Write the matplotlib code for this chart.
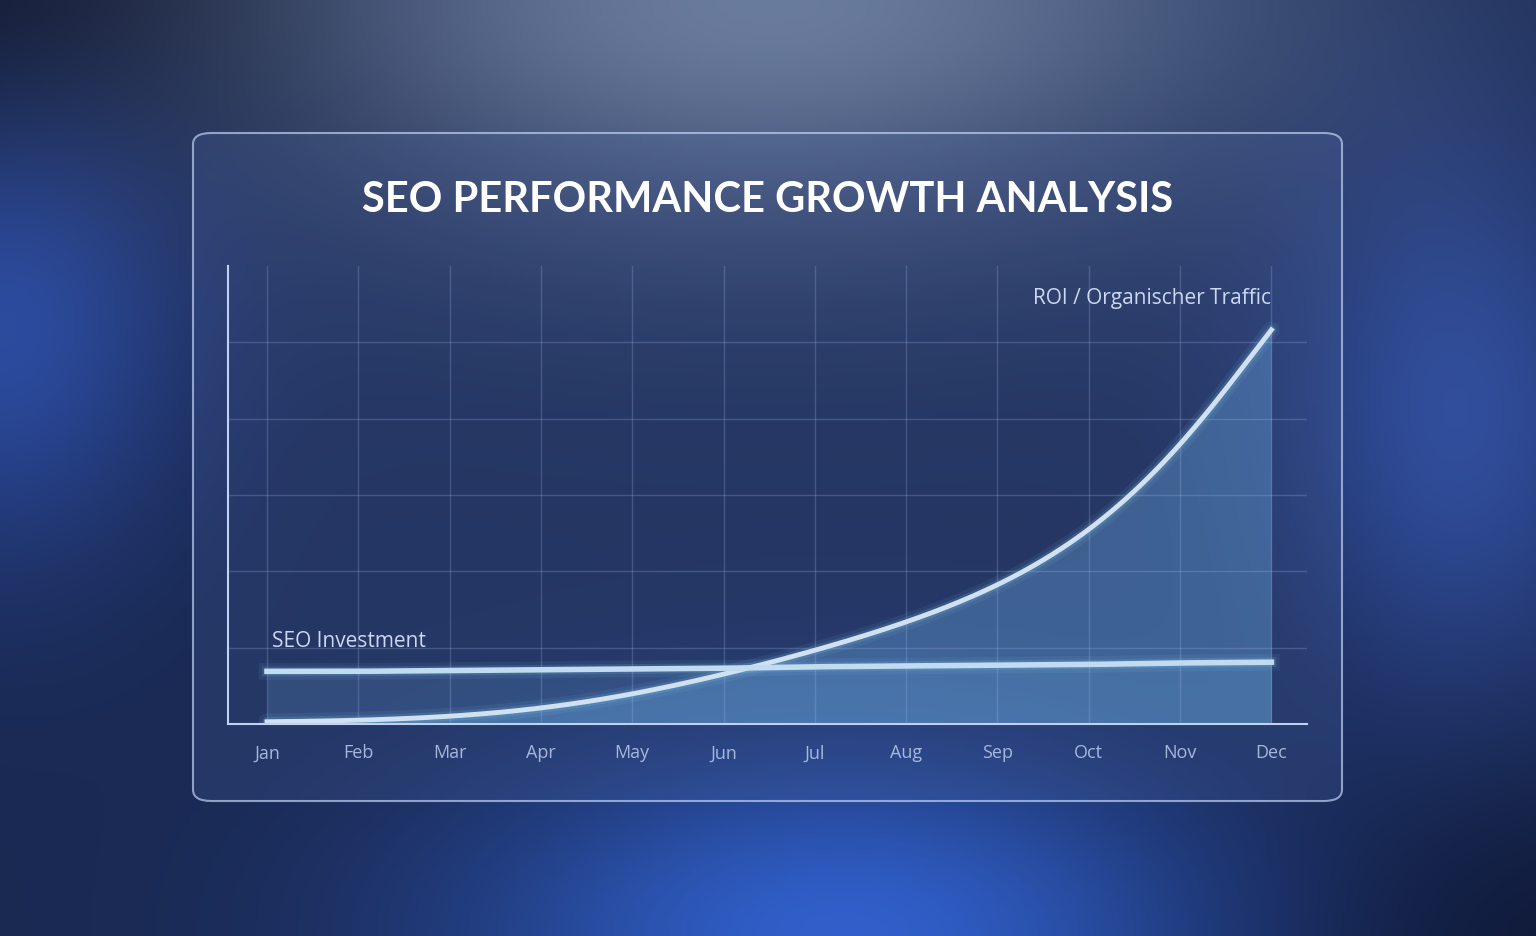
import numpy as np
import matplotlib
matplotlib.use("Agg")
import matplotlib.pyplot as plt
from matplotlib.patches import FancyBboxPatch

months = ["Jan", "Feb", "Mar", "Apr", "May", "Jun", "Jul", "Aug", "Sep", "Oct", "Nov", "Dec"]
roi = [0.03, 0.05, 0.10, 0.22, 0.39, 0.64, 0.98, 1.32, 1.86, 2.54, 3.64, 5.18]
investment = [0.69, 0.69, 0.70, 0.71, 0.72, 0.73, 0.75, 0.76, 0.77, 0.78, 0.80, 0.81]

W, H = 1536, 937
fig = plt.figure(figsize=(W / 100, H / 100), dpi=100)

# background gradient
bg = fig.add_axes([0, 0, 1, 1])
yy, xx = np.mgrid[0:1:300j, 0:1:500j]
base = np.array([0.10, 0.16, 0.32])
img = np.zeros((300, 500, 3)) + base
def blob(cx, cy, sx, sy, col, a):
    g = np.exp(-(((xx - cx) / sx) ** 2 + ((yy - cy) / sy) ** 2))
    return g[..., None] * (np.array(col) - base) * a
img += blob(0.5, 0.0, 0.35, 0.25, [0.45, 0.52, 0.65], 0.9)
img += blob(0.55, 1.0, 0.25, 0.2, [0.2, 0.4, 0.85], 0.9)
img += blob(0.0, 0.35, 0.12, 0.25, [0.2, 0.35, 0.75], 0.7)
img += blob(0.95, 0.45, 0.12, 0.3, [0.25, 0.4, 0.8], 0.6)
img += blob(0.0, 0.0, 0.2, 0.2, [0.03, 0.05, 0.12], 0.8)
img += blob(1.0, 1.0, 0.2, 0.2, [0.05, 0.08, 0.18], 0.8)
img = np.clip(img, 0, 1)
bg.imshow(img, extent=[0, 1, 0, 1], aspect="auto", origin="upper")
bg.set_xlim(0, 1); bg.set_ylim(0, 1); bg.axis("off")

panel = FancyBboxPatch((193 / W, 1 - 802 / H), (1342 - 193) / W, (802 - 134) / H,
                       boxstyle="round,pad=0,rounding_size=0.012", transform=fig.transFigure,
                       facecolor=(0.35, 0.45, 0.7, 0.18), edgecolor=(0.75, 0.82, 0.95, 0.7), lw=1.5)
fig.patches.append(panel)

fig.text(768 / W, 1 - 200 / H, "SEO PERFORMANCE GROWTH ANALYSIS", color="white",
         fontsize=30, fontweight="bold", family="Lato", ha="center", va="center")

l, r, t, b = 228, 1307, 267, 725
ax = fig.add_axes([l / W, 1 - b / H, (r - l) / W, (b - t) / H])
ax.patch.set_alpha(0)
x = np.arange(len(months))
ax.set_xlim(-0.427, 11.39)
ax.set_ylim(0, 6)
ax.set_yticks(np.arange(1, 6))
ax.set_xticks(x)
ax.set_xticklabels(months, color=(0.72, 0.78, 0.9), fontsize=13, family="Montserrat")
for lab in ax.get_xticklabels():
    lab.set_family(["Open Sans"])
ax.tick_params(length=0, pad=14, labelleft=False)
ax.grid(True, color=(0.7, 0.78, 0.95), alpha=0.25, lw=1)
for s in ["top", "right"]:
    ax.spines[s].set_visible(False)
for s in ["left", "bottom"]:
    ax.spines[s].set_color((0.85, 0.9, 1.0)); ax.spines[s].set_linewidth(1.5)

xs = np.linspace(0, 11, 300)
def smooth(v):
    return np.interp(xs, x, v)
from numpy.polynomial import polynomial as P
ys_roi = np.interp(xs, x, roi)
# cubic smoothing via local spline-like interpolation
coef = np.polyfit(x, np.log(np.array(roi)), 5)
ys_roi = np.exp(np.polyval(coef, xs))
ys_inv = np.interp(xs, x, investment)

ax.fill_between(xs, 0, ys_roi, color=(0.45, 0.75, 0.95), alpha=0.35, lw=0)
ax.fill_between(xs, 0, ys_inv, color=(0.45, 0.75, 0.95), alpha=0.18, lw=0)
for lw, a in [(12, 0.08), (7, 0.15)]:
    ax.plot(xs, ys_roi, color=(0.6, 0.9, 1.0), lw=lw, alpha=a, solid_capstyle="round")
    ax.plot(xs, ys_inv, color=(0.6, 0.9, 1.0), lw=lw, alpha=a)
ax.plot(xs, ys_roi, color=(0.92, 0.98, 1.0), lw=3.5)
ax.plot(xs, ys_inv, color=(0.85, 0.95, 1.0), lw=4)

ax.text(11, 5.45, "ROI / Organischer Traffic", color=(0.9, 0.93, 1.0), fontsize=15,
        family="Open Sans", ha="right", va="bottom")
ax.text(0.05, 0.95, "SEO Investment", color=(0.9, 0.93, 1.0), fontsize=15,
        family="Open Sans", ha="left", va="bottom")

fig.savefig("out.png", dpi=100)
